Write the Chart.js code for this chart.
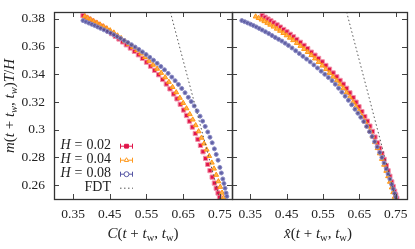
<!DOCTYPE html>
<html>
<head>
<meta charset="utf-8">
<script src="https://cdn.jsdelivr.net/npm/chart.js@4.4.1/dist/chart.umd.min.js"></script>
<style>
  body { margin: 0; background: #fff; }
  #wrap { position: relative; width: 415px; height: 249px; overflow: hidden; font-family: 'Liberation Serif', serif; }
  canvas { position: absolute; top: 0; }
  .ttl { position: absolute; font-size: 15px; line-height: 16px; text-align: center; color: #222; white-space: nowrap; }
  .ttl sub { font-size: 10.5px; vertical-align: -3px; line-height: 0; }
</style>
</head>
<body>
<div id="wrap">
  <canvas id="left" width="240" height="249" style="left:0"></canvas>
  <canvas id="right" width="189" height="249" style="left:226px"></canvas>
  <div class="ttl" style="left:43px;top:225px;width:200px"><i>C</i>(<i>t</i> + <i>t</i><sub>w</sub>, <i>t</i><sub>w</sub>)</div>
  <div class="ttl" style="left:218px;top:225px;width:200px"><i>x&#770;</i>(<i>t</i> + <i>t</i><sub>w</sub>, <i>t</i><sub>w</sub>)</div>
  <div class="ttl" style="left:-71px;top:98px;width:160px;transform:rotate(-90deg)"><i>m</i>(<i>t</i> + <i>t<sub>w</sub></i>, <i>t<sub>w</sub></i>)<i>T</i>/<i>H</i></div>
</div>
<script>
// === Data ===
const xTicks = [0.35, 0.45, 0.55, 0.65, 0.75];
const yTicks = [0.26, 0.28, 0.30, 0.32, 0.34, 0.36, 0.38];
const hLabels = ["0.02", "0.04", "0.08"];

// left panel: m T/H vs C
const cH02x = [0.377,0.385,0.393,0.401,0.410,0.419,0.428,0.437,0.446,0.455,0.465,0.475,0.485,0.495,0.506,0.517,0.528,0.539,0.550,0.561,0.572,0.583,0.594,0.604,0.614,0.624,0.633,0.642,0.651,0.659,0.667,0.675,0.683,0.690,0.697,0.704,0.711,0.717,0.723,0.729,0.735,0.740,0.745,0.749];
const cH02y = [0.3824,0.3812,0.3800,0.3788,0.3775,0.3762,0.3748,0.3733,0.3712,0.3694,0.3675,0.3655,0.3634,0.3613,0.3590,0.3566,0.3541,0.3515,0.3488,0.3459,0.3429,0.3397,0.3363,0.3330,0.3295,0.3258,0.3223,0.3184,0.3142,0.3103,0.3062,0.3019,0.2973,0.2931,0.2887,0.2841,0.2793,0.2750,0.2705,0.2658,0.2615,0.2578,0.2543,0.2513];
const cH04x = [0.382,0.390,0.398,0.406,0.415,0.424,0.433,0.442,0.451,0.461,0.471,0.481,0.491,0.502,0.513,0.524,0.535,0.546,0.557,0.568,0.579,0.590,0.601,0.611,0.621,0.631,0.641,0.650,0.659,0.668,0.676,0.684,0.692,0.700,0.707,0.714,0.721,0.728,0.734,0.740,0.746,0.751,0.756,0.760];
const cH04y = [0.3818,0.3806,0.3795,0.3783,0.3771,0.3758,0.3745,0.3731,0.3717,0.3701,0.3680,0.3661,0.3641,0.3619,0.3597,0.3574,0.3550,0.3524,0.3497,0.3469,0.3440,0.3410,0.3378,0.3345,0.3308,0.3270,0.3230,0.3193,0.3154,0.3112,0.3073,0.3032,0.2988,0.2942,0.2900,0.2856,0.2810,0.2762,0.2719,0.2674,0.2627,0.2587,0.2545,0.2510];
const cH08x = [0.377,0.385,0.393,0.401,0.409,0.417,0.425,0.434,0.443,0.452,0.461,0.470,0.479,0.489,0.499,0.509,0.519,0.529,0.539,0.549,0.559,0.569,0.579,0.589,0.599,0.609,0.619,0.628,0.637,0.646,0.655,0.664,0.672,0.680,0.688,0.696,0.703,0.710,0.717,0.723,0.729,0.735,0.740,0.745,0.750,0.754,0.758,0.761,0.764,0.767,0.769];
const cH08y = [0.3788,0.3779,0.3770,0.3761,0.3752,0.3742,0.3732,0.3721,0.3710,0.3698,0.3686,0.3673,0.3660,0.3645,0.3630,0.3614,0.3597,0.3580,0.3562,0.3543,0.3523,0.3502,0.3480,0.3457,0.3433,0.3407,0.3380,0.3354,0.3327,0.3298,0.3267,0.3234,0.3203,0.3172,0.3136,0.3098,0.3062,0.3024,0.2984,0.2946,0.2906,0.2862,0.2822,0.2780,0.2728,0.2688,0.2645,0.2612,0.2578,0.2543,0.2519];

// right panel: m T/H vs x-hat
const xH02x = [0.383,0.391,0.399,0.407,0.415,0.424,0.433,0.442,0.451,0.460,0.469,0.478,0.488,0.498,0.508,0.518,0.528,0.538,0.548,0.558,0.568,0.578,0.588,0.597,0.606,0.615,0.624,0.633,0.641,0.649,0.657,0.665,0.672,0.679,0.686,0.693,0.700,0.706,0.712,0.718,0.724,0.729,0.734,0.739,0.743,0.747,0.750,0.753];
const xH02y = [0.3824,0.3812,0.3799,0.3786,0.3772,0.3757,0.3741,0.3724,0.3707,0.3689,0.3671,0.3652,0.3631,0.3609,0.3586,0.3560,0.3538,0.3515,0.3490,0.3464,0.3437,0.3410,0.3382,0.3356,0.3329,0.3299,0.3266,0.3232,0.3199,0.3166,0.3131,0.3095,0.3062,0.3026,0.2988,0.2947,0.2905,0.2867,0.2828,0.2786,0.2742,0.2704,0.2664,0.2623,0.2590,0.2556,0.2530,0.2505];
const xH04x = [0.365,0.373,0.381,0.389,0.397,0.405,0.414,0.423,0.432,0.441,0.450,0.459,0.468,0.478,0.488,0.498,0.508,0.518,0.528,0.538,0.548,0.558,0.568,0.578,0.588,0.597,0.606,0.615,0.624,0.633,0.641,0.649,0.657,0.665,0.672,0.679,0.686,0.693,0.700,0.706,0.712,0.718,0.724,0.729,0.734,0.739,0.743,0.747];
const xH04y = [0.3817,0.3806,0.3795,0.3783,0.3771,0.3758,0.3744,0.3729,0.3714,0.3698,0.3681,0.3664,0.3646,0.3626,0.3605,0.3583,0.3561,0.3538,0.3514,0.3489,0.3463,0.3437,0.3410,0.3382,0.3354,0.3327,0.3299,0.3268,0.3235,0.3200,0.3167,0.3133,0.3097,0.3060,0.3026,0.2990,0.2951,0.2910,0.2867,0.2829,0.2789,0.2747,0.2703,0.2664,0.2624,0.2583,0.2549,0.2515];
const xH08x = [0.327,0.335,0.343,0.351,0.359,0.367,0.375,0.383,0.392,0.401,0.410,0.419,0.428,0.437,0.446,0.455,0.465,0.475,0.485,0.495,0.505,0.515,0.525,0.535,0.545,0.555,0.565,0.575,0.584,0.593,0.602,0.611,0.620,0.629,0.638,0.646,0.654,0.662,0.670,0.678,0.685,0.692,0.699,0.706,0.712,0.718,0.724,0.729,0.734,0.739,0.743,0.747,0.750];
const xH08y = [0.3788,0.3780,0.3771,0.3762,0.3752,0.3742,0.3731,0.3720,0.3707,0.3694,0.3680,0.3666,0.3653,0.3640,0.3625,0.3609,0.3590,0.3570,0.3550,0.3530,0.3510,0.3490,0.3468,0.3446,0.3423,0.3400,0.3377,0.3354,0.3328,0.3300,0.3271,0.3242,0.3212,0.3180,0.3148,0.3119,0.3090,0.3059,0.3024,0.2986,0.2951,0.2914,0.2876,0.2836,0.2800,0.2760,0.2718,0.2681,0.2644,0.2605,0.2573,0.2540,0.2515];

// FDT line end points
const fdtX = [0.615, 0.75];
const fdtY = [0.385, 0.25];

const FONT = "'Liberation Serif', serif";
const pts = (xs, ys) => xs.map((x, i) => ({ x, y: ys[i] }));

const styles = [
  { pointStyle: "rect", pointRadius: 3, backgroundColor: "#e0164a", borderColor: "#f290a8", line: "#e0164a", open: false },
  { pointStyle: "triangle", pointRadius: 2.8, backgroundColor: "rgba(255,170,50,0.85)", borderColor: "#ff9512", line: "#ff9a1f", open: true },
  { pointStyle: "circle", pointRadius: 2, backgroundColor: "rgba(70,70,150,0.85)", borderColor: "#8a8ac4", line: "#5656a4", open: true },
];

function datasets(series) {
  const out = series.map((s, i) => ({
    type: "scatter",
    legendText: hLabels[i],
    data: s,
    pointStyle: styles[i].pointStyle,
    pointRadius: styles[i].pointRadius,
    pointBorderWidth: 1,
    backgroundColor: styles[i].backgroundColor,
    borderColor: styles[i].borderColor,
    sym: styles[i],
    order: 3 - i,
  }));
  out.push({
    type: "line",
    legendText: "FDT",
    data: pts(fdtX, fdtY),
    borderColor: "#555",
    borderWidth: 1,
    borderDash: [1.5, 2.5],
    pointRadius: 0,
    fill: false,
    order: 0,
  });
  return out;
}

// inward ticks on all four sides, plus the box
const frame = {
  id: "frame",
  afterDatasetsDraw(chart) {
    const { ctx, chartArea: a, scales } = chart;
    ctx.save();
    ctx.strokeStyle = "#444";
    ctx.lineWidth = 1;
    ctx.beginPath();
    xTicks.forEach(v => {
      const px = Math.round(scales.x.getPixelForValue(v)) + 0.5;
      ctx.moveTo(px, a.bottom); ctx.lineTo(px, a.bottom - 5);
      ctx.moveTo(px, a.top); ctx.lineTo(px, a.top + 5);
    });
    yTicks.forEach(v => {
      const py = Math.round(scales.y.getPixelForValue(v)) + 0.5;
      ctx.moveTo(a.left, py); ctx.lineTo(a.left + 5, py);
      ctx.moveTo(a.right, py); ctx.lineTo(a.right - 5, py);
    });
    ctx.stroke();
    ctx.lineWidth = 1.3;
    ctx.strokeStyle = "#333";
    ctx.strokeRect(Math.round(a.left) + 0.5, Math.round(a.top) + 0.5, Math.round(a.width), Math.round(a.height));
    ctx.restore();
  },
};

// gnuplot style key: text right aligned, sample on the right
const key = {
  id: "key",
  afterDraw(chart) {
    const ctx = chart.ctx;
    const right = 111, x0 = 120, x1 = 133, xm = 126.5;
    ctx.save();
    ctx.textBaseline = "middle";
    ctx.textAlign = "right";
    chart.data.datasets.forEach((ds, i) => {
      const yy = 145.7 + i * 14;
      ctx.fillStyle = "#222";
      ctx.font = "14px " + FONT;
      if (ds.legendText === "FDT") {
        ctx.fillText("FDT", right, yy);
        ctx.strokeStyle = "#555";
        ctx.lineWidth = 1;
        ctx.setLineDash([1.5, 2.5]);
        ctx.beginPath(); ctx.moveTo(x0, yy + 0.5); ctx.lineTo(x1, yy + 0.5); ctx.stroke();
        ctx.setLineDash([]);
        return;
      }
      ctx.fillText(ds.legendText, right, yy);
      let w = ctx.measureText(ds.legendText).width + 4;
      ctx.fillText("=", right - w, yy);
      w += ctx.measureText("=").width + 4;
      ctx.font = "italic 14px " + FONT;
      ctx.fillText("H", right - w, yy);

      const s = ds.sym;
      ctx.strokeStyle = s.line;
      ctx.lineWidth = 1;
      ctx.beginPath();
      ctx.moveTo(x0, yy + 0.5); ctx.lineTo(x1, yy + 0.5);
      ctx.moveTo(x0 + 0.5, yy - 2); ctx.lineTo(x0 + 0.5, yy + 3);
      ctx.moveTo(x1 - 0.5, yy - 2); ctx.lineTo(x1 - 0.5, yy + 3);
      ctx.stroke();
      ctx.fillStyle = s.open ? "#fff" : s.backgroundColor;
      ctx.strokeStyle = s.line;
      Chart.helpers.drawPoint(ctx, { pointStyle: s.pointStyle, radius: s.pointStyle === "circle" ? 2.5 : s.pointRadius - 0.3, rotation: 0, borderWidth: 1 }, xm, yy + 0.5);
    });
    ctx.restore();
  },
};

function makeChart(id, series, xr, showY, withKey, yWidth, padRight) {
  return new Chart(document.getElementById(id), {
    data: { datasets: datasets(series) },
    options: {
      responsive: false,
      animation: false,
      layout: { padding: { left: 0, right: padRight, top: 12, bottom: 0 } },
      plugins: { legend: { display: false }, tooltip: { enabled: false } },
      scales: {
        x: {
          type: "linear",
          min: xr[0], max: xr[1],
          afterBuildTicks: s => { s.ticks = xTicks.map(v => ({ value: v })); },
          afterFit: s => { s.height = 50; s.paddingLeft = 0; s.paddingRight = 0; },
          grid: { display: false, drawTicks: false },
          border: { display: false },
          ticks: {
            padding: 7, color: "#222", autoSkip: false, maxRotation: 0,
            font: { family: FONT, size: 13.5 },
            callback: v => String(+v.toFixed(2)),
          },
        },
        y: {
          type: "linear",
          min: 0.25, max: 0.385,
          afterBuildTicks: s => { s.ticks = yTicks.map(v => ({ value: v })); },
          afterFit: s => { s.width = yWidth; s.paddingTop = 0; s.paddingBottom = 0; },
          grid: { display: false, drawTicks: false },
          border: { display: false },
          ticks: {
            display: showY, padding: 9, color: "#222",
            font: { family: FONT, size: 13.5 },
            callback: v => String(+v.toFixed(2)),
          },
        },
      },
    },
    plugins: withKey ? [frame, key] : [frame],
  });
}

makeChart("left", [pts(cH02x, cH02y), pts(cH04x, cH04y), pts(cH08x, cH08y)], [0.298, 0.783], true, true, 54, 8);
makeChart("right", [pts(xH02x, xH02y), pts(xH04x, xH04y), pts(xH08x, xH08y)], [0.300, 0.781], false, false, 6, 8);
</script>
</body>
</html>
